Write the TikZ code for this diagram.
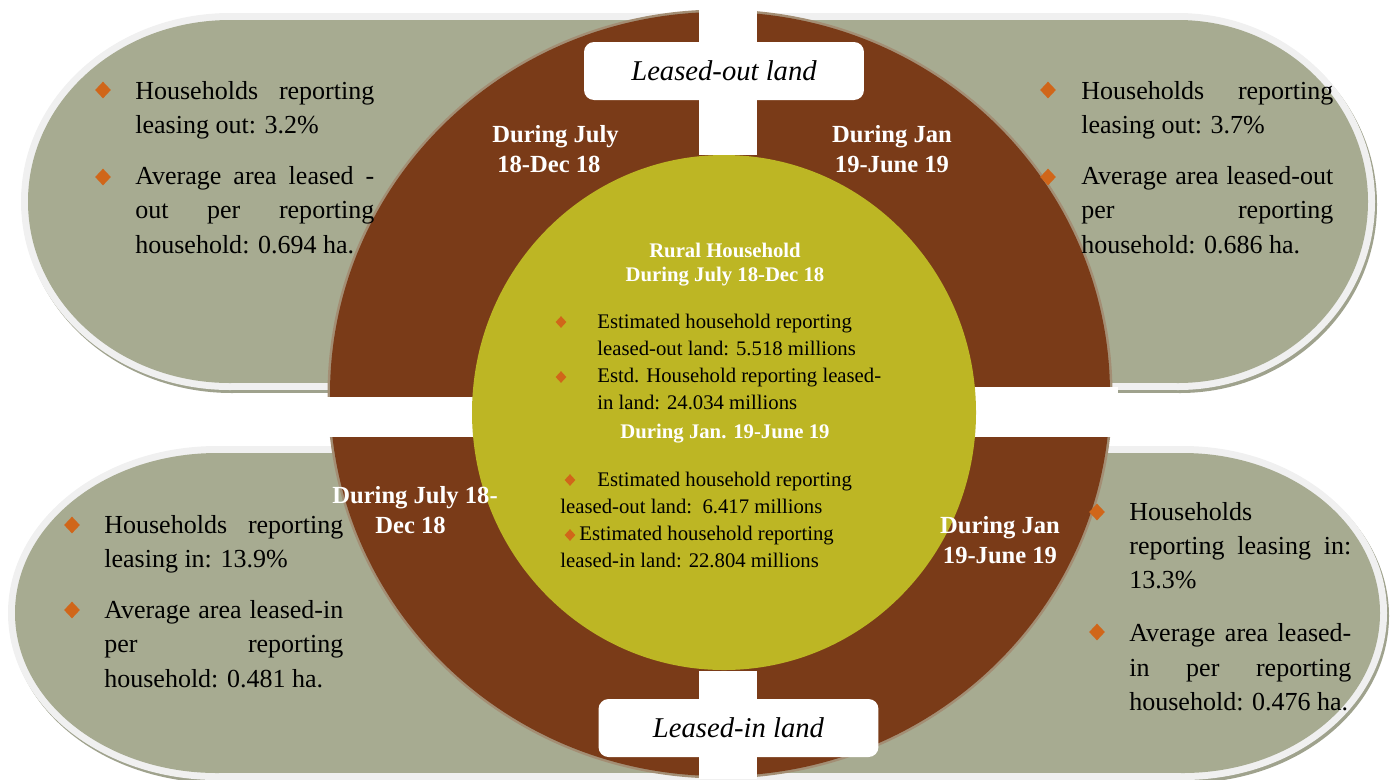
\documentclass[tikz,border=0pt]{standalone}
\usepackage{fontspec}
\setmainfont{Liberation Serif}
\usetikzlibrary{shapes.geometric}
\newdimen\px \px=0.02cm
\definecolor{pill}{HTML}{A7AB91}
\definecolor{pillrim}{HTML}{F0F0F0}
\definecolor{pillsh}{HTML}{9FA28D}
\definecolor{ring}{HTML}{7A3B18}
\definecolor{ringrim}{HTML}{A38E74}
\definecolor{core}{HTML}{BDB624}
\definecolor{bulc}{HTML}{D0661A}
% #1 left centre x, #2 right centre x, #3 centre y, #4 left rx, #5 right rx, #6 ry
\newcommand\drawpill[6]{%
  \begin{scope}[shift={(2,3)}]
    \fill[pillsh] (#1,#3) ellipse [x radius=#4+7, y radius=#6+7];
    \fill[pillsh] (#2,#3) ellipse [x radius=#5+7, y radius=#6+7];
    \fill[pillsh] (#1,#3-#6-7) rectangle (#2,#3+#6+7);
  \end{scope}
  \fill[pillrim] (#1,#3) ellipse [x radius=#4+7, y radius=#6+7];
  \fill[pillrim] (#2,#3) ellipse [x radius=#5+7, y radius=#6+7];
  \fill[pillrim] (#1,#3-#6-7) rectangle (#2,#3+#6+7);
  \fill[pill] (#1,#3) ellipse [x radius=#4, y radius=#6];
  \fill[pill] (#2,#3) ellipse [x radius=#5, y radius=#6];
  \fill[pill] (#1,#3-#6) rectangle (#2,#3+#6);
}
\begin{document}
\begin{tikzpicture}[x=0.02cm, y=-0.02cm,
  gtext/.style={anchor=base west, inner sep=0pt, text=black, font=\fontsize{14.8}{19.5}\selectfont},
  itext/.style={anchor=base west, inner sep=0pt, text=black, font=\fontsize{11.8}{15.5}\selectfont},
  wlab/.style={anchor=base west, inner sep=0pt, text=white, font=\bfseries\fontsize{14}{17.6}\selectfont},
  whead/.style={anchor=base, inner sep=0pt, text=white, font=\bfseries\fontsize{11.8}{13.7}\selectfont},
  bul/.style={diamond, fill=bulc, inner sep=0pt, minimum width=0.32cm, minimum height=0.34cm},
  ibul/.style={diamond, fill=bulc, inner sep=0pt, minimum width=0.22cm, minimum height=0.24cm},
  lbox/.style={fill=white, rounded corners=0.2cm, minimum width=5.6cm, minimum height=1.16cm, inner sep=0pt, text=black, font=\itshape\fontsize{16.3}{19}\selectfont}]
\useasboundingbox (0,0) rectangle (1396,779);
% grey pills
\drawpill{230}{1178}{201.5}{202}{190}{181.5}
\drawpill{217}{1183}{613}{202}{197}{160}
% brown ring
\draw[ringrim, line width=0.1cm] (720,394) ellipse [x radius=390, y radius=382];
\fill[ring] (720,394) ellipse [x radius=390, y radius=382];
% white cross bars
\fill[white] (699,0) rectangle (757,155);
\fill[white] (699,671) rectangle (757,779);
\fill[white] (320,397) rectangle (480,437);
\fill[white] (960,387) rectangle (1118,437);
% inner circle
\fill[core] (724,412.5) ellipse [x radius=252, y radius=257.5];
% label boxes
\node[lbox] (lout) at (724,71) {Leased-out land};
\node[lbox] (lin) at (738.5,728) {Leased-in land};
% ring labels
\node[wlab] (ttl) at (492,142) {\parbox[t]{160\px}{During July\\\hspace*{5\px}18-Dec 18}};
\node[wlab, anchor=base] (ttr) at (892,142) {\parbox[t]{160\px}{\centering During Jan\\19-June 19}};
\node[wlab] (tbl) at (332,503) {\parbox[t]{200\px}{During July 18-\\\hspace*{43\px}Dec 18}};
\node[wlab, anchor=base] (tbr) at (1000,533) {\parbox[t]{160\px}{\centering During Jan\\19-June 19}};
% pill texts
\node[gtext] (ptl) at (135,99) {\parbox[t]{239\px}{\makebox[239\px][s]{Households reporting}\\leasing out: 3.2\%\\[17\px]\makebox[239\px][s]{Average area leased -}\\\makebox[239\px][s]{out per reporting}\\household: 0.694 ha.}};
\node[gtext] (ptr) at (1081,99) {\parbox[t]{252\px}{\makebox[252\px][s]{Households reporting}\\leasing out: 3.7\%\\[17\px]\makebox[252\px][s]{Average area leased-out}\\\makebox[252\px][s]{per reporting}\\household: 0.686 ha.}};
\node[gtext] (pbl) at (104,533) {\parbox[t]{239\px}{\makebox[239\px][s]{Households reporting}\\leasing in: 13.9\%\\[17\px]\makebox[239\px][s]{Average area leased-in}\\\makebox[239\px][s]{per reporting}\\household: 0.481 ha.}};
\node[gtext] (pbr) at (1129,520) {\parbox[t]{222\px}{Households\\\makebox[222\px][s]{reporting leasing in:}\\13.3\%\\[19\px]\makebox[222\px][s]{Average area leased-}\\\makebox[222\px][s]{in per reporting}\\household: 0.476 ha.}};
% pill bullets
\node[bul] (b1) at (103,90) {};
\node[bul] (b2) at (103,177) {};
\node[bul] (b3) at (1048,90) {};
\node[bul] (b4) at (1048,177) {};
\node[bul] (b5) at (72,525) {};
\node[bul] (b6) at (72,610) {};
\node[bul] (b7) at (1097,512) {};
\node[bul] (b8) at (1097,632) {};
% inner texts
\node[whead] (rh) at (725,257) {\parbox[t]{300\px}{\centering Rural Household\\During July 18-Dec 18}};
\node[itext] (blk1) at (597,328) {\parbox[t]{320\px}{Estimated household reporting\\leased-out land: 5.518 millions\\Estd. Household reporting leased-\\in land: 24.034 millions}};
\node[whead] (jan) at (725,438) {During Jan. 19-June 19};
\node[itext] (blk2) at (560,486) {\parbox[t]{320\px}{\hspace*{37\px}Estimated household reporting\\leased-out land:\ \ 6.417 millions\\\hspace*{19\px}Estimated household reporting\\leased-in land: 22.804 millions}};
\node[ibul] (i1) at (561,322) {};
\node[ibul] (i2) at (561,377) {};
\node[ibul] (i3) at (570,480) {};
\node[ibul] (i4) at (570,535) {};
\end{tikzpicture}
\end{document}
